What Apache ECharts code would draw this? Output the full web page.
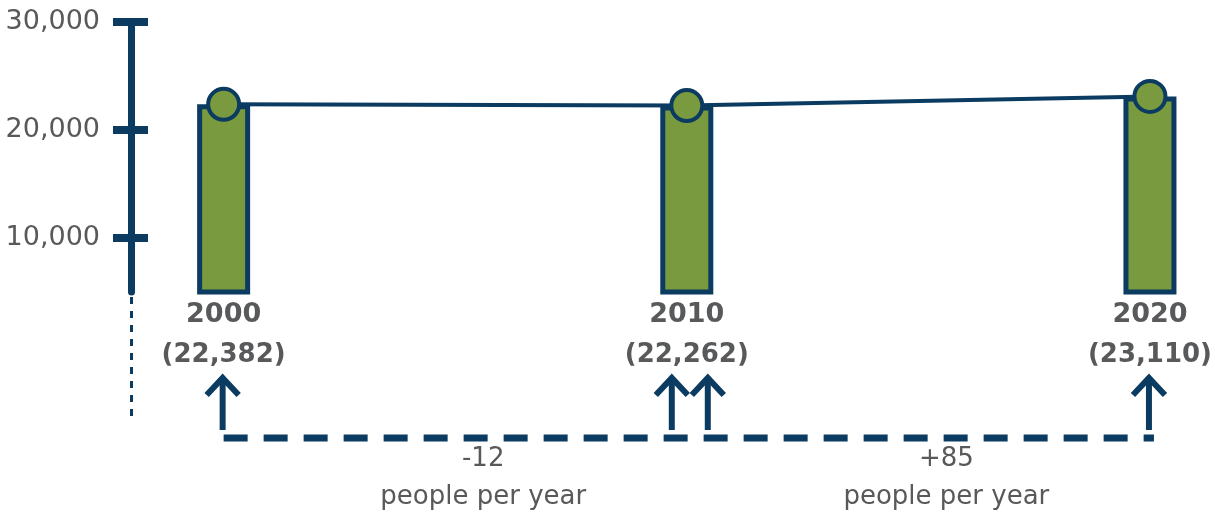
<!DOCTYPE html>
<html><head><meta charset="utf-8">
<script src="https://cdn.jsdelivr.net/npm/echarts@6/dist/echarts.min.js"></script>
<style>html,body{margin:0;padding:0;background:#fff}#c{width:1215px;height:514px}</style>
</head><body><div id="c"></div>
<script>
// ---- data ----
const years = [2000, 2010, 2020];
const population = [22382, 22262, 23110];
const yTicks = [10000, 20000, 30000];
const arrowCounts = [1, 2, 1];
const periodStart = [2000, 2010];
const periodEnd = [2010, 2020];
const periodChange = ['-12', '+85'];
const periodUnit = 'people per year';

// ---- styles ----
const NAVY = '#0b3b60';
const GREEN = '#7a9a3f';
const GRAY = '#58595b';
const FONT = '"DejaVu Sans", "Open Sans", sans-serif';
const Y_MIN = 5000, Y_MAX = 30000;

const fmt = v => v.toLocaleString('en-US');
const popByYear = {};
years.forEach((y, i) => popByYear[y] = population[i]);

const chart = echarts.init(document.getElementById('c'), null, {renderer: 'canvas'});

const arrowData = years.map((y, i) => [y, Y_MIN, arrowCounts[i]]);
const periodData = periodStart.map((s, i) => [s, Y_MIN, periodEnd[i], i]);

chart.setOption({
  animation: false,
  backgroundColor: '#fff',
  grid: {left: 131, right: 16, top: 22, bottom: 222, containLabel: false},
  xAxis: {
    type: 'value', min: 1998, max: 2021,
    axisLine: {show: false}, axisTick: {show: false}, splitLine: {show: false},
    axisLabel: {
      customValues: years,
      margin: 2,
      formatter: v => '{y|' + v + '}\n{v|(' + fmt(popByYear[v]) + ')}',
      rich: {
        y: {fontFamily: FONT, fontWeight: 'bold', fontSize: 27, color: GRAY, lineHeight: 41, align: 'center'},
        v: {fontFamily: FONT, fontWeight: 'bold', fontSize: 26, color: GRAY, lineHeight: 41, align: 'center'}
      }
    }
  },
  yAxis: [{
    type: 'value', min: Y_MIN, max: Y_MAX, position: 'left',
    splitLine: {show: false},
    axisLine: {show: true, lineStyle: {color: NAVY, width: 7}},
    axisTick: {show: true, customValues: yTicks, length: 18, lineStyle: {color: NAVY, width: 8}},
    axisLabel: {customValues: yTicks, margin: 31, formatter: v => fmt(v),
      fontFamily: FONT, fontSize: 27, color: GRAY}
  }, {
    type: 'value', min: Y_MIN, max: Y_MAX, position: 'left',
    splitLine: {show: false},
    axisLine: {show: false},
    axisTick: {show: true, inside: true, customValues: yTicks, length: 17, lineStyle: {color: NAVY, width: 8}},
    axisLabel: {show: false}
  }],
  series: [{
    type: 'bar',
    data: years.map((y, i) => [y, population[i]]),
    barWidth: 53,
    itemStyle: {color: GREEN, borderColor: NAVY, borderWidth: 5},
    z: 2
  }, {
    type: 'line',
    data: years.map((y, i) => [y, population[i]]),
    symbol: 'circle', symbolSize: 31,
    lineStyle: {color: NAVY, width: 4},
    itemStyle: {color: GREEN, borderColor: NAVY, borderWidth: 4},
    z: 3
  }, {
    type: 'custom',
    data: arrowData,
    encode: {x: 0, y: 1},
    renderItem: (params, api) => {
      const cs = params.coordSys;
      const base = cs.y + cs.height;
      const x = api.coord([api.value(0), Y_MIN])[0];
      const n = api.value(2);
      const offs = n === 1 ? [-1] : [-15, 21];
      const children = [];
      const st = {stroke: NAVY, lineWidth: 6, fill: null, lineJoin: 'miter', lineCap: 'butt'};
      offs.forEach(o => {
        const ax = x + o;
        children.push({type: 'line', shape: {x1: ax, y1: base + 138, x2: ax, y2: base + 86}, style: st});
        children.push({type: 'polyline', shape: {points: [[ax - 16, base + 103], [ax, base + 86], [ax + 16, base + 103]]}, style: st});
      });
      return {type: 'group', children};
    },
    z: 4
  }, {
    type: 'custom',
    data: periodData,
    encode: {x: 0, y: 1},
    renderItem: (params, api) => {
      const cs = params.coordSys;
      const base = cs.y + cs.height;
      const x1 = api.coord([api.value(0), Y_MIN])[0];
      const x2 = api.coord([api.value(2), Y_MIN])[0];
      const idx = api.value(3);
      const mid = (x1 + x2) / 2 + 28;
      const children = [
        {type: 'text', style: {text: periodChange[idx], x: mid, y: base + 167, align: 'center', verticalAlign: 'middle',
          fontSize: 26, fontFamily: FONT, fill: GRAY}},
        {type: 'text', style: {text: periodUnit, x: mid, y: base + 205, align: 'center', verticalAlign: 'middle',
          fontSize: 26, fontFamily: FONT, fill: GRAY}}
      ];
      if (idx === 0) {
        const xa = api.coord([periodStart[0], Y_MIN])[0];
        const xb = api.coord([periodEnd[periodEnd.length - 1], Y_MIN])[0];
        children.push({type: 'line', shape: {x1: xa, y1: base + 146, x2: xb + 4, y2: base + 146},
          style: {stroke: NAVY, lineWidth: 7, lineDash: [24, 16]}});
        children.push({type: 'line', shape: {x1: cs.x + 0.5, y1: base + 5, x2: cs.x + 0.5, y2: base + 125},
          style: {stroke: NAVY, lineWidth: 3, lineDash: [7, 7]}});
      }
      return {type: 'group', children};
    },
    z: 4
  }]
});
</script>
</body></html>
